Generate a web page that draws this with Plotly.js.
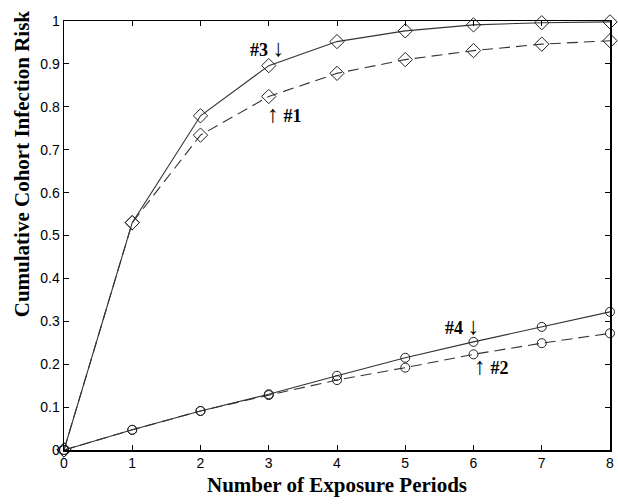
<!DOCTYPE html>
<html><head><meta charset="utf-8">
<script src="https://cdn.plot.ly/plotly-3.0.1.min.js"></script>
<style>body{margin:0;background:#fff}#c{width:618px;height:504px}</style>
</head><body><div id="c"></div>
<script>
var periods = [0,1,2,3,4,5,6,7,8];
var risk1 = [0,0.530,0.734,0.824,0.878,0.910,0.931,0.946,0.954];
var risk2 = [0,0.047,0.091,0.128,0.163,0.192,0.223,0.249,0.272];
var risk3 = [0,0.530,0.779,0.896,0.952,0.977,0.991,0.996,0.998];
var risk4 = [0,0.047,0.091,0.130,0.173,0.215,0.252,0.287,0.322];
var xTicks = [0,1,2,3,4,5,6,7,8];
var yTicks = [0,0.1,0.2,0.3,0.4,0.5,0.6,0.7,0.8,0.9,1];
var yTickText = ['0','0.1','0.2','0.3','0.4','0.5','0.6','0.7','0.8','0.9','1'];
var xTitle = 'Number of Exposure Periods';
var yTitle = 'Cumulative Cohort Infection Risk';
var ARW_D = '<span style="font-size:24px">\u2193</span>';
var ARW_U = '<span style="font-size:24px">\u2191</span>';
var labels = [
  {text:'#3 ' + ARW_D, x:2.98, y:0.937},
  {text:ARW_U + ' #1', x:3.23, y:0.783},
  {text:'#4 ' + ARW_D, x:5.84, y:0.289},
  {text:ARW_U + ' #2', x:6.26, y:0.195}
];
var serif = 'Liberation Serif, Times New Roman, serif';
function tr(y, dash, sym, size){
  return {x:periods, y:y, mode:'lines+markers', type:'scatter',
    line:{color:'#333', width:1.1, dash:dash},
    marker:{symbol:sym, size:size, color:'#222', line:{color:'#222', width:1}},
    cliponaxis:false, showlegend:false};
}
var data = [
  tr(risk1,'11px,6px','diamond-open',11),
  tr(risk3,'solid','diamond-open',11),
  tr(risk2,'11px,6px','circle-open',9),
  tr(risk4,'solid','circle-open',9)
];
var ax = {showgrid:false, zeroline:false, ticks:'inside', ticklen:5, tickwidth:1, tickcolor:'#000',
  showline:true, linecolor:'#000', linewidth:1.5, mirror:'ticks',
  tickfont:{family:'Liberation Sans, Arial, sans-serif', size:14, color:'#000'}};
var anns = labels.map(function(a){ return {text:'<b>'+a.text+'</b>', x:a.x, y:a.y, xref:'x', yref:'y',
    showarrow:false, font:{family:serif, size:18, color:'#000'}}; });
anns.push({text:'<b>'+yTitle+'</b>', textangle:-90, xref:'paper', yref:'paper',
  x:-0.078, y:0.667, xanchor:'center', yanchor:'middle', showarrow:false,
  font:{family:serif, size:21, color:'#000'}});
var layout = {
  width:618, height:504, paper_bgcolor:'#fff', plot_bgcolor:'#fff',
  margin:{l:64, r:8, t:21, b:54},
  xaxis:Object.assign({}, ax, {range:[0,8], tickvals:xTicks,
    title:{text:'<b>'+xTitle+'</b>', standoff:7, font:{family:serif, size:21, color:'#000'}}}),
  yaxis:Object.assign({}, ax, {range:[0,1], tickvals:yTicks, ticktext:yTickText}),
  annotations: anns
};
Plotly.newPlot('c', data, layout, {staticPlot:true});
</script></body></html>
